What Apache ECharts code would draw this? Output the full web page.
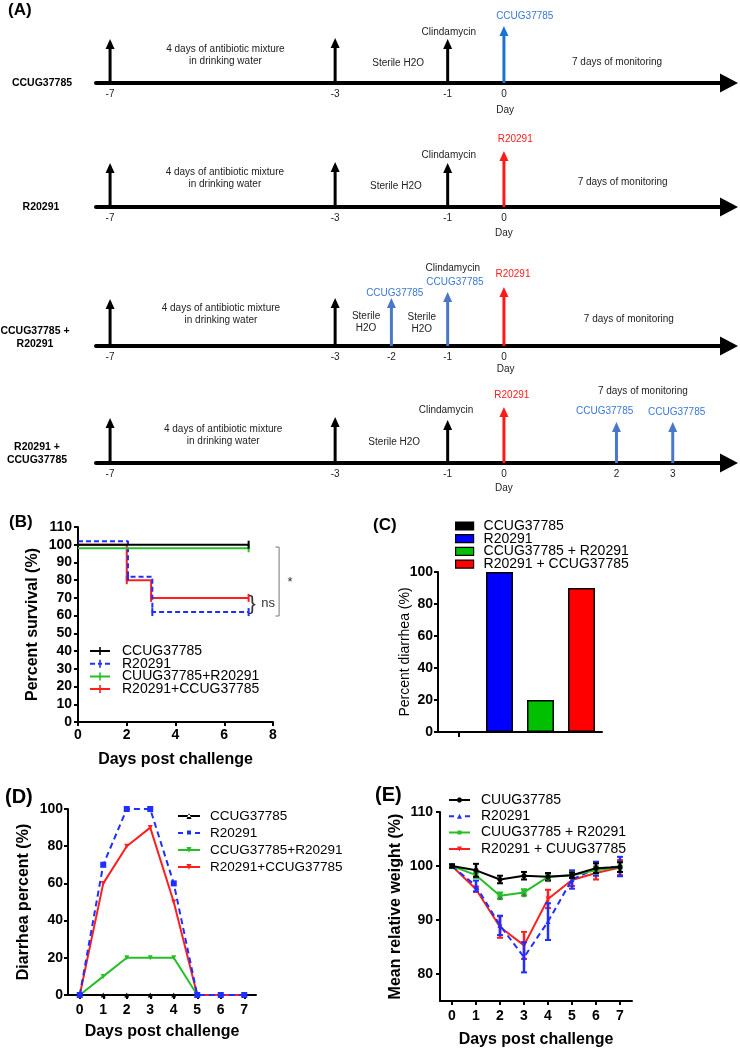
<!DOCTYPE html>
<html><head><meta charset="utf-8">
<script src="https://cdn.jsdelivr.net/npm/echarts@6/dist/echarts.min.js"></script>
<style>
html,body{margin:0;padding:0;background:#fff;width:740px;height:1049px;overflow:hidden}
.layer{position:absolute;left:0;top:0;width:740px;height:1049px}
</style></head><body>
<div id="pA" class="layer"></div>
<div id="pB" class="layer"></div>
<div id="pC" class="layer"></div>
<div id="pD" class="layer"></div>
<div id="pE" class="layer"></div>
<script>
// ================= DATA =================
// Panel A: experimental timelines
const rowLabels = ['CCUG37785', 'R20291', 'CCUG37785 +\nR20291', 'R20291 +\nCCUG37785'];
const eventDays = [[-7,-3,-1,0],[-7,-3,-1,0],[-7,-3,-2,-1,0],[-7,-3,-1,0,2,3]];
const eventAgents = [
  ['abx','water','clinda','CCUG'],
  ['abx','water','clinda','R'],
  ['abx','water','CCUG','CCUG','R'],
  ['abx','water','clinda','R','CCUG','CCUG']
];
const noteTexts = [
  ['4 days of antibiotic mixture\nin drinking water','Sterile H2O','Clindamycin','CCUG37785','7 days of monitoring','Day'],
  ['4 days of antibiotic mixture\nin drinking water','Sterile H2O','Clindamycin','R20291','7 days of monitoring','Day'],
  ['4 days of antibiotic mixture\nin drinking water','Sterile\nH2O','CCUG37785','Sterile\nH2O','Clindamycin','CCUG37785','R20291','7 days of monitoring','Day'],
  ['4 days of antibiotic mixture\nin drinking water','Sterile H2O','Clindamycin','R20291','7 days of monitoring','CCUG37785','CCUG37785','Day']
];

// Panel B: survival
const survNames = ['CCUG37785','R20291','CUUG37785+R20291','R20291+CCUG37785'];
const survDays = [[0,7],[0,2.05,3.05,7],[0,7],[0,2,3,7]];
const survPct = [[100,100],[102,82,62,62],[98,98],[100,80,70,70]];
const survSig = ['ns','*'];

// Panel C: percent diarrhea
const diarNames = ['CCUG37785','R20291','CCUG37785 + R20291','R20291 + CCUG37785'];
const diarPct = [0,100,20,90];

// Panel D: daily diarrhea percent
const dayCats = ['0','1','2','3','4','5','6','7'];
const dailyNames = ['CCUG37785','R20291','CCUG37785+R20291','R20291+CCUG37785'];
const dailyCCUG = [0,0,0,0,0,0,0,0];
const dailyR    = [0,70,100,100,60,0,0,0];
const dailyCR   = [0,10,20,20,20,0,0,0];
const dailyRC   = [0,60,80,90,50,0,0,0];

// Panel E: mean relative weight
const weightNames = ['CUUG37785','R20291','CUUG37785 + R20291','R20291 + CUUG37785'];
const weightTicks = [80,90,100,110];
const weightCUUG = [100,99.2,97.5,98.2,98.0,98.3,99.6,99.8];
const weightCUUGErr = [0.3,1.2,0.7,0.7,0.7,0.5,0.9,0.9];
const weightR    = [100,96.3,89.0,83.1,89.7,97.5,99.5,99.9];
const weightRErr = [0.3,1.0,1.8,2.8,3.4,1.7,1.3,1.8];
const weightCR   = [100,98.3,94.5,95.1,98.0,98.3,99.2,99.8];
const weightCRErr = [0.2,0.5,0.6,0.6,0.5,0.5,0.6,0.9];
const weightRC   = [100,95.7,88.7,85.3,93.9,97.4,98.7,99.7];
const weightRCErr = [0.2,0.5,2.0,2.5,1.7,1.1,1.2,1.4];
const sigDays = [2,3,4];
const sigLevel = [93.3,94.0,96.8];

// ================= LAYOUT / STYLE =================
const FONT = '"Liberation Sans", Arial, sans-serif';
const rowAxisY = [83, 207, 346, 463];
const rowLabelPos = [[42,0],[41,0],[35,-8],[37,-9]];
const arrowLen = [[44,45,44,57],[44,45,44,56],[47,48,48,54,59],[45,46,43,56,41,41]];
const notePos = [
  [[-4.95,28],[-1.88,20],[-0.98,51],[0.37,67],[2.01,21],[0.02,-27]],
  [[-4.96,28.5],[-1.92,21],[-0.98,52],[0.2,68],[2.11,25],[0,-26]],
  [[-5.03,31.5],[-2.45,23.5],[-1.94,53],[-1.46,23],[-0.91,78],[-0.87,64],[0.16,72],[2.22,27],[0.03,-23]],
  [[-4.99,28],[-1.95,21],[-1.03,53],[0.14,68],[2.47,72],[1.79,52],[3.07,51],[0,-25]]
];
const RED = '#ff1a1a', BLUE1 = '#1c74d0', BLUE2 = '#4a78c8', BLUE_TXT = '#3a78d6';
const lineColors = ['#000000','#1f2fff','#28be28','#ff1f1f'];
const barColors = ['#000000','#0000ff','#00c000','#ff0000'];

// legend icon shapes (drawn in item box)
const iconB = [
  'path://M0,3L20,3L20,5L0,5Z M9.2,0L10.8,0L10.8,8L9.2,8Z',
  'path://M0,3L5,3L5,5L0,5Z M8,3L12,3L12,5L8,5Z M15,3L20,3L20,5L15,5Z M9.2,0L10.8,0L10.8,8L9.2,8Z',
  'path://M0,3L20,3L20,5L0,5Z M9.2,0L10.8,0L10.8,8L9.2,8Z',
  'path://M0,3L20,3L20,5L0,5Z M9.2,0L10.8,0L10.8,8L9.2,8Z'
];
const iconD = [
  'path://M0,3L22,3L22,5L0,5Z M8.5,7L13.5,7L11,1Z',
  'path://M0,3L5,3L5,5L0,5Z M17,3L22,3L22,5L17,5Z M9,1.5L13,1.5L13,5.5L9,5.5Z M0,1L0.01,1L0.01,7L0,7Z',
  'path://M0,3L22,3L22,5L0,5Z M8.5,1L13.5,1L11,7Z',
  'path://M0,3L22,3L22,5L0,5Z M8.5,1L13.5,1L11,7Z'
];
const iconE = [
  'path://M0,3L21,3L21,5L0,5Z M9.5,1.5L11.5,1.5L13,3L13,5L11.5,6.5L9.5,6.5L8,5L8,3Z',
  'path://M0,3L5,3L5,5L0,5Z M16,3L21,3L21,5L16,5Z M8,6.5L13,6.5L10.5,1.5Z M0,1L0.01,1L0.01,7L0,7Z',
  'path://M0,3L21,3L21,5L0,5Z M8.5,2L12.5,2L12.5,6L8.5,6Z M0,1L0.01,1L0.01,7L0,7Z',
  'path://M0,3L21,3L21,5L0,5Z M8,1.5L13,1.5L10.5,6.5Z'
];

const arrowColour = (a,row) => a==='R' ? RED : a==='CCUG' ? (row===0 ? BLUE1 : BLUE2) : '#000';
const noteColour = t => t==='R20291' ? RED : t==='CCUG37785' ? BLUE_TXT : '#222';

function mk(id){ return echarts.init(document.getElementById(id), null, {renderer:'canvas', width:740, height:1049}); }
function txt(text, x, y, size, weight, align, fill){
  return {type:'text', x:x, y:y, silent:true, style:{text:text, fill:fill||'#000', fontSize:size, fontWeight:weight||'normal', fontFamily:FONT, align:align||'left', verticalAlign:'middle', textAlign:align||'left', textVerticalAlign:'middle', lineHeight:13}};
}

// ================= PANEL A =================
function arrowItem(params, api){
  const x = api.value(0), len = api.value(1);
  const p0 = api.coord([x,0]), p1 = api.coord([x,len]);
  const c = api.visual('color');
  const hh = 10, hw = 4.5;
  return {type:'group', children:[
    {type:'line', shape:{x1:p0[0],y1:p0[1],x2:p1[0],y2:p1[1]+hh-1}, style:{stroke:c, lineWidth:3}},
    {type:'polygon', shape:{points:[[p1[0]-hw,p1[1]+hh],[p1[0]+hw,p1[1]+hh],[p1[0],p1[1]]]}, style:{fill:c}}
  ]};
}
const seriesA = [];
rowAxisY.forEach((y,i)=>{
  seriesA.push({type:'custom', xAxisIndex:i, yAxisIndex:i, clip:false, silent:true, renderItem:arrowItem,
    data: eventDays[i].map((d,j)=>({value:[d, arrowLen[i][j]], itemStyle:{color:arrowColour(eventAgents[i][j], i)}}))});
  seriesA.push({type:'custom', xAxisIndex:i, yAxisIndex:i, clip:false, silent:true,
    renderItem:(p,api)=>{
      const pt = api.coord([api.value(0), api.value(1)]);
      const t = noteTexts[i][p.dataIndex];
      return {type:'text', x:pt[0], y:pt[1], style:{text:t, fill:noteColour(t), fontSize:10, fontFamily:FONT,
        align:'center', verticalAlign:'middle', textAlign:'center', textVerticalAlign:'middle', lineHeight:12}};
    },
    data: notePos[i]});
});
const optA = {
  animation:false,
  grid: rowAxisY.map(y=>({left:96, width:633, top:y-70, height:70})),
  xAxis: rowAxisY.map((y,i)=>({type:'value', gridIndex:i, min:-7.25, max:4,
    axisLine:{show:true, onZero:false, lineStyle:{color:'#000', width:4}, symbol:['none','triangle'], symbolSize:[19,18]},
    axisTick:{show:false}, splitLine:{show:false},
    axisLabel:{customValues:eventDays[i], fontSize:10, color:'#222', fontFamily:FONT, margin:6}})),
  yAxis: rowAxisY.map((y,i)=>({type:'value', gridIndex:i, min:0, max:70, show:false})),
  series: seriesA,
  graphic: [
    ...rowLabels.map((t,i)=>txt(t, rowLabelPos[i][0], rowAxisY[i]+rowLabelPos[i][1], 10.5, 'bold', 'center')),
    txt('(A)', 8, 10, 17, 'bold'),
    txt('(B)', 9, 522, 17, 'bold'),
    txt('(C)', 373, 525, 17, 'bold'),
    txt('(D)', 5, 797, 20, 'bold'),
    txt('(E)', 375, 795, 20, 'bold')
  ]
};
mk('pA').setOption(optA);

// ================= COMMON AXIS =================
const tickLab = {color:'#000', fontSize:14, fontWeight:'bold', fontFamily:FONT};
const axName = {color:'#000', fontSize:16, fontWeight:'bold', fontFamily:FONT};
function axisBase(extra){
  return Object.assign({
    axisLine:{show:true, onZero:false, lineStyle:{color:'#000', width:2}},
    axisTick:{show:true, length:4, lineStyle:{color:'#000', width:2}},
    splitLine:{show:false}, nameLocation:'middle', nameMoveOverlap:false
  }, extra);
}
function legendBase(extra, ts){
  return Object.assign({orient:'vertical', padding:0, symbolRotate:0, itemStyle:{borderWidth:0},
    textStyle:Object.assign({color:'#000', fontFamily:FONT, fontSize:14}, ts)}, extra);
}

// ================= PANEL B =================
const survZ = [5,3,4,2];
const optB = {
  animation:false,
  grid:{left:78, top:527, width:195, height:195},
  xAxis: axisBase({type:'value', min:0, max:8, interval:2, name:'Days post challenge', nameGap:30, nameTextStyle:axName, axisLabel:Object.assign({margin:6}, tickLab)}),
  yAxis: axisBase({type:'value', min:0, max:110, interval:10, name:'Percent survival (%)', nameGap:37, nameTextStyle:axName, axisLabel:Object.assign({margin:6}, tickLab)}),
  legend: legendBase({left:90, top:644, itemWidth:20, itemHeight:8, itemGap:-1.3,
    data:survNames.map((n,k)=>({name:n, icon:iconB[k]}))}, {padding:[0,0,0,7]}),
  series: survNames.map((n,k)=>({
    type:'line', name:n, step:'end', z:survZ[k], symbol:'rect', symbolSize:[2,8],
    lineStyle:{color:lineColors[k], width:2, type: k===1 ? [5,3] : 'solid'},
    itemStyle:{color:lineColors[k]},
    data: survDays[k].map((d,j)=>({value:[d, survPct[k][j]], symbol: j===0 ? 'none' : 'rect'}))
  })).concat([{
    type:'custom', silent:true, clip:false, z:10, data:[[0,0]],
    renderItem:(p,api)=>{
      const c = v=>api.coord(v);
      const b1=c([8.1,98.7]), b2=c([8.25,98.7]), b3=c([8.25,59.8]), b4=c([8.1,59.8]);
      const br=c([7.15,66.5]), ns=c([7.8,67]), st=c([8.7,79]);
      const ts = (t,pt,s)=>({type:'text', x:pt[0], y:pt[1], style:{text:t, fill:'#333', fontSize:s, fontFamily:FONT, align:'center', verticalAlign:'middle', textAlign:'center', textVerticalAlign:'middle'}});
      return {type:'group', children:[
        {type:'polyline', shape:{points:[b1,b2,b3,b4]}, style:{stroke:'#777', lineWidth:1, fill:null}},
        ts('}', br, 21), ts(survSig[0], ns, 13), ts(survSig[1], st, 13)
      ]};
    }
  }])
};
mk('pB').setOption(optB);

// ================= PANEL C =================
const optC = {
  animation:false,
  grid:{left:438, top:572, width:164, height:160},
  xAxis: axisBase({type:'category', data:diarNames, axisLabel:{show:false},
    axisTick:{show:true, alignWithLabel:true, length:5, lineStyle:{color:'#000', width:2}}}),
  yAxis: axisBase({type:'value', min:0, max:100, interval:20, name:'Percent diarrhea (%)', nameGap:26,
    nameTextStyle:{color:'#000', fontSize:14, fontFamily:FONT}, axisLabel:Object.assign({margin:5}, tickLab)}),
  legend: Object.assign(legendBase({left:455, top:519, itemWidth:18, itemHeight:8, itemGap:-1.3, icon:'rect', data:diarNames}, {padding:[0,0,0,5]}), {itemStyle:{borderColor:'#000', borderWidth:1.2}}),
  series: diarNames.map((n,k)=>({type:'bar', name:n, stack:'d', barWidth:27,
    itemStyle:{color:barColors[k], borderColor:'#000', borderWidth:1.5},
    data: diarPct.map((v,j)=> j===k ? v : '-')}))
};
mk('pC').setOption(optC);

// ================= PANEL D =================
const dailyVals = [dailyCCUG, dailyR, dailyCR, dailyRC];
const dSym = ['triangle','rect','triangle','triangle'];
const dRot = [0,0,180,180];
const dZ = [2,5,3,4];
const optD = {
  animation:false,
  grid:{left:68, top:809, width:188, height:186},
  xAxis: axisBase({type:'category', data:dayCats, boundaryGap:true, name:'Days post challenge', nameGap:29, nameTextStyle:axName,
    axisTick:{show:true, alignWithLabel:true, length:4, lineStyle:{color:'#000', width:2}}, axisLabel:Object.assign({margin:8}, tickLab)}),
  yAxis: axisBase({type:'value', min:0, max:100, interval:20, name:'Diarrhea percent (%)', nameGap:36, nameTextStyle:axName, axisLabel:Object.assign({margin:5}, tickLab)}),
  legend: legendBase({left:178, top:809, itemWidth:22, itemHeight:8, itemGap:3,
    data:dailyNames.map((n,k)=>({name:n, icon:iconD[k]}))}, {fontSize:13.5, padding:[0,0,0,5]}),
  series: dailyNames.map((n,k)=>({type:'line', name:n, z:dZ[k], symbol:dSym[k], symbolRotate:dRot[k], symbolSize:k===1?6:5,
    lineStyle:{color:lineColors[k], width:2, type: k===1 ? [6,4] : 'solid'}, itemStyle:{color:lineColors[k]},
    data: dailyVals[k]}))
};
mk('pD').setOption(optD);

// ================= PANEL E =================
const wVals = [weightCUUG, weightR, weightCR, weightRC];
const wErr = [weightCUUGErr, weightRErr, weightCRErr, weightRCErr];
const eSym = ['circle','triangle','rect','triangle'];
const eRot = [0,0,0,180];
const eZ = [8,6,7,5];
function errItem(params, api){
  const x=api.value(0), m=api.value(1), e=api.value(2);
  const t=api.coord([x,m+e]), b=api.coord([x,m-e]);
  const c=api.visual('color'), w=3;
  return {type:'group', children:[
    {type:'line', shape:{x1:t[0],y1:t[1],x2:b[0],y2:b[1]}, style:{stroke:c, lineWidth:2.5}},
    {type:'line', shape:{x1:t[0]-w,y1:t[1],x2:t[0]+w,y2:t[1]}, style:{stroke:c, lineWidth:2}},
    {type:'line', shape:{x1:b[0]-w,y1:b[1],x2:b[0]+w,y2:b[1]}, style:{stroke:c, lineWidth:2}}
  ]};
}
const optE = {
  animation:false,
  grid:{left:440, top:812, width:192, height:191},
  xAxis: axisBase({type:'category', data:dayCats, boundaryGap:true, name:'Days post challenge', nameGap:31, nameTextStyle:axName,
    axisTick:{show:true, alignWithLabel:true, length:4, lineStyle:{color:'#000', width:2}}, axisLabel:Object.assign({margin:8}, tickLab)}),
  yAxis: axisBase({type:'value', min:75, max:110, name:'Mean relative weight (%)', nameGap:36, nameTextStyle:axName,
    axisTick:{show:true, length:4, lineStyle:{color:'#000', width:2}, customValues:weightTicks},
    axisLabel:Object.assign({margin:7, customValues:weightTicks}, tickLab)}),
  legend: legendBase({left:449, top:793, itemWidth:21, itemHeight:8, itemGap:2.3,
    data:weightNames.map((n,k)=>({name:n, icon:iconE[k]}))}, {padding:[0,0,0,6]}),
  series: weightNames.map((n,k)=>({type:'line', name:n, z:eZ[k], symbol:eSym[k], symbolRotate:eRot[k], symbolSize:5,
      lineStyle:{color:lineColors[k], width:2, type: k===1 ? [6,4] : 'solid'}, itemStyle:{color:lineColors[k]},
      data: wVals[k]}))
    .concat(weightNames.map((n,k)=>({type:'custom', name:'err'+k, z:eZ[k], silent:true, clip:false, renderItem:errItem,
      itemStyle:{color:lineColors[k]}, data: wVals[k].map((m,i)=>[i, m, wErr[k][i]])})))
    .concat([{type:'custom', name:'sig', z:10, silent:true, clip:false,
      renderItem:(p,api)=>{ const pt=api.coord([api.value(0), api.value(1)]);
        return {type:'text', x:pt[0], y:pt[1], style:{text:'*', fill:'#555', fontSize:12, fontFamily:FONT, align:'center', verticalAlign:'middle', textAlign:'center', textVerticalAlign:'middle'}}; },
      data: sigDays.map((d,i)=>[d, sigLevel[i]])}])
};
mk('pE').setOption(optE);
</script>
</body></html>
